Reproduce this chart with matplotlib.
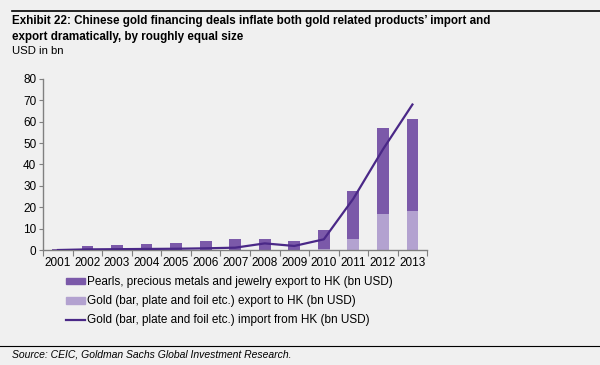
import matplotlib.pyplot as plt
from matplotlib.patches import Patch
from matplotlib.lines import Line2D
import numpy as np

years = ["2001", "2002", "2003", "2004", "2005", "2006", "2007",
         "2008", "2009", "2010", "2011", "2012", "2013"]
pearls_total = [0.5, 2.0, 2.5, 2.8, 3.3, 4.2, 5.0, 5.1, 4.3, 9.3, 27.6, 56.9, 61.0]
gold_export = [0, 0, 0, 0, 0, 0, 0, 0, 0, 0.3, 5.1, 16.8, 18.2]
gold_import = [0, 0.3, 0.4, 0.5, 0.6, 0.8, 1.1, 3.1, 1.9, 5.0, 24.0, 47.0, 68.0]

DARK = "#7b59a9"
LIGHT = "#b3a2d0"
LINE = "#4a2887"
BG = "#f0f0f0"

plt.rcParams['font.family'] = ['Liberation Sans', 'DejaVu Sans']

fig = plt.figure(figsize=(6, 3.65), dpi=100, facecolor=BG)
ax = fig.add_axes([0.072, 0.315, 0.64, 0.469])
ax.set_facecolor(BG)

x = np.arange(len(years))
pearls_only = [t - g for t, g in zip(pearls_total, gold_export)]
ax.bar(x, gold_export, width=0.4, color=LIGHT, zorder=2)
ax.bar(x, pearls_only, width=0.4, bottom=gold_export, color=DARK, zorder=2)
ax.plot(x, gold_import, color=LINE, linewidth=1.6, zorder=3)

ax.set_xlim(-0.5, len(years) - 0.5)
ax.set_ylim(0, 80)
ax.set_yticks(range(0, 81, 10))
ax.set_xticks(x)
ax.set_xticklabels(years)
ax.set_xticks(np.arange(-0.5, len(years), 1), minor=True)
ax.tick_params(axis='x', which='major', length=0, labelsize=8.5, pad=5)
ax.tick_params(axis='x', which='minor', length=4, color="#808080", width=0.8)
ax.tick_params(axis='y', length=3, color="#808080", width=0.8, labelsize=8.5, pad=2)

for s in ['top', 'right']:
    ax.spines[s].set_visible(False)
for s in ['left', 'bottom']:
    ax.spines[s].set_color("#808080")
    ax.spines[s].set_linewidth(1.0)

handles = [
    Patch(color=DARK, label="Pearls, precious metals and jewelry export to HK (bn USD)"),
    Patch(color=LIGHT, label="Gold (bar, plate and foil etc.) export to HK (bn USD)"),
    Line2D([0], [0], color=LINE, linewidth=1.6,
           label="Gold (bar, plate and foil etc.) import from HK (bn USD)"),
]
fig.legend(handles=handles, loc='upper left', bbox_to_anchor=(0.11, 0.243),
           frameon=False, fontsize=8.5, handlelength=1.6, handleheight=0.5,
           handletextpad=0.2, labelspacing=0.6, borderpad=0, borderaxespad=0)

fig.add_artist(Line2D([0.02, 1.0], [0.969, 0.969], color="black", linewidth=1.2))
fig.add_artist(Line2D([0.0, 1.0], [0.052, 0.052], color="black", linewidth=0.8))

fig.text(0.02, 0.958, "Exhibit 22: Chinese gold financing deals inflate both gold related products\u2019 import and\nexport dramatically, by roughly equal size",
         fontsize=8.4, fontweight='bold', va='top', ha='left', linespacing=1.38)
fig.text(0.02, 0.873, "USD in bn", fontsize=8.2, va='top', ha='left')
fig.text(0.02, 0.028, "Source: CEIC, Goldman Sachs Global Investment Research.",
         fontsize=7.5, style='italic', va='center', ha='left')

fig.savefig("out.png", dpi=100, facecolor=BG)
